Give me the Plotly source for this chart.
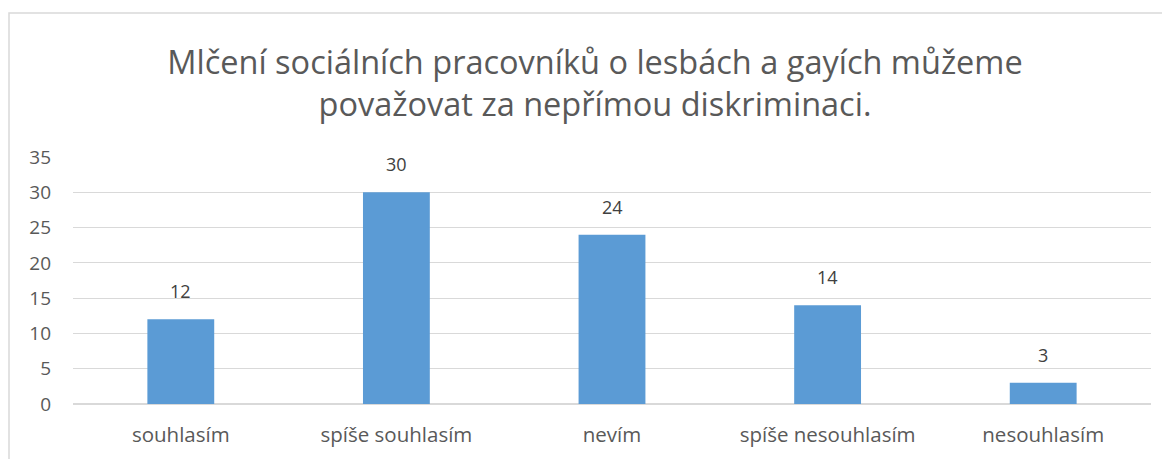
import plotly.graph_objects as go

categories = ["souhlasím", "spíše souhlasím", "nevím", "spíše nesouhlasím", "nesouhlasím"]
values = [12, 30, 24, 14, 3]
title_text = "Mlčení sociálních pracovníků o lesbách a gayích můžeme<br>považovat za nepřímou diskriminaci."

FONT = "Open Sans, Lato, sans-serif"
W, H = 1170, 459
OFF = 8  # page body margin
L, R = 73 - OFF, W - (1151 - OFF)
T, B = 157 - OFF, H - (404 - OFF)
pw = W - L - R
ph = H - T - B

def px_x(p):
    return (p - OFF - L) / pw

def px_y(p):
    return (H - B - (p - OFF)) / ph

fig = go.Figure()
fig.add_trace(go.Bar(
    x=categories, y=values,
    marker=dict(color="#5B9BD5", line=dict(width=0)),
))

for c, v in zip(categories, values):
    fig.add_annotation(x=c, y=v, text=str(v), showarrow=False,
                       yanchor="bottom", yshift=14,
                       font=dict(family=FONT, size=18, color="#404040"))

fig.update_layout(
    width=W, height=H,
    margin=dict(l=L, r=R, t=T, b=B),
    paper_bgcolor="white", plot_bgcolor="white",
    bargap=0.69,
    showlegend=False,
    title=dict(text=title_text, x=(595 - OFF) / W, xanchor="center", y=1 - (74 - OFF) / H, yanchor="middle",
               font=dict(family=FONT, size=32.5, color="#595959")),
    xaxis=dict(showgrid=False, showline=False, ticks="", ticklabelstandoff=16,
               tickfont=dict(family=FONT, size=20.5, color="#595959")),
    yaxis=dict(range=[0, 35], dtick=5, showgrid=True, gridcolor="#D9D9D9", gridwidth=1,
               zeroline=True, zerolinecolor="#D9D9D9", showline=False, ticks="",
               ticklabelstandoff=21,
               tickfont=dict(family=FONT, size=19, color="#595959")),
    shapes=[dict(type="rect", xref="paper", yref="paper",
                 x0=px_x(9), x1=px_x(1230), y0=px_y(520), y1=px_y(13),
                 line=dict(color="#D9D9D9", width=1.5), fillcolor="rgba(0,0,0,0)", layer="below")],
)

fig.write_html("out.html")
